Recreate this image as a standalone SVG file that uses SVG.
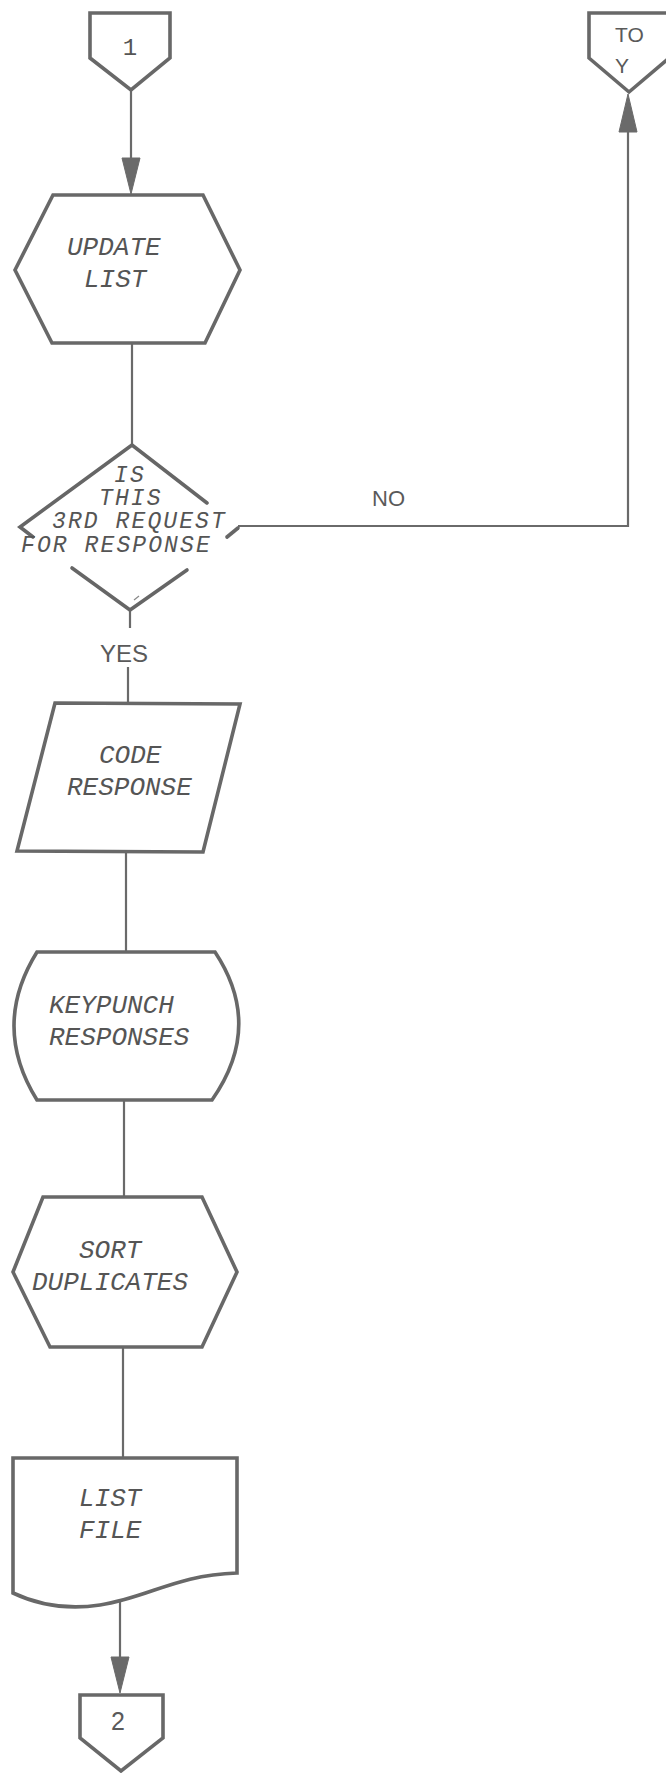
<svg xmlns="http://www.w3.org/2000/svg" width="666" height="1773" viewBox="0 0 666 1773">
  <defs>
    <style>
      .shape { fill: #ffffff; stroke: #686868; stroke-width: 3.6; stroke-linejoin: miter; }
      .edge { fill: none; stroke: #6a6a6a; stroke-width: 2.2; }
      .dia { fill: none; stroke: #666666; stroke-width: 3.6; stroke-linecap: round; }
      .head { fill: #6a6a6a; stroke: #6a6a6a; stroke-width: 1; }
      .mono { font-family: "Liberation Mono", "DejaVu Sans Mono", monospace; font-style: italic; font-size: 26px; fill: #555555; }
      .q { font-size: 23px; letter-spacing: 2.1px; }
      .sans { font-family: "Liberation Sans", Arial, sans-serif; fill: #5a5a5a; }
    </style>
  </defs>
  <rect x="0" y="0" width="666" height="1773" fill="#ffffff"/>

  <!-- connectors -->
  <g id="connectors">
    <line class="edge" x1="131" y1="90" x2="131" y2="160"/>
    <polygon class="head" points="122,158 140,158 131,194"/>
    <line class="edge" x1="132" y1="343" x2="132" y2="445"/>
    <polyline class="edge" points="238,526 628,526 628,130"/>
    <polygon class="head" points="619,132 637,132 628,94"/>
    <line class="edge" x1="130" y1="610" x2="130" y2="628"/>
    <line class="edge" x1="128" y1="667" x2="128" y2="703"/>
    <line class="edge" x1="126" y1="852" x2="126" y2="952"/>
    <line class="edge" x1="124" y1="1100" x2="124" y2="1197"/>
    <line class="edge" x1="123" y1="1347" x2="123" y2="1458"/>
    <line class="edge" x1="120" y1="1602" x2="120" y2="1660"/>
    <polygon class="head" points="111,1657 129,1657 120,1693"/>
    <text class="sans" x="372" y="506" font-size="22">NO</text>
    <text class="sans" x="100" y="662" font-size="24">YES</text>
  </g>

  <!-- off-page connector 1 -->
  <g id="conn-1">
    <polygon class="shape" points="90,13 170,13 170,58 131,90 90,58"/>
    <text x="130" y="55" text-anchor="middle" font-family="Liberation Mono, monospace" font-size="24" fill="#555555">1</text>
  </g>

  <!-- off-page connector TO Y -->
  <g id="conn-to-y">
    <polygon class="shape" points="589,13 669,13 669,58 629,92 589,58"/>
    <text class="sans" x="615" y="42" font-size="21">TO</text>
    <text class="sans" x="615" y="73" font-size="21">Y</text>
  </g>

  <!-- preparation: update list -->
  <g id="update-list">
    <polygon class="shape" points="15,270 53,195 203,195 240,270 205,343 52,343"/>
    <text class="mono" x="67" y="255">UPDATE</text>
    <text class="mono" x="84" y="287">LIST</text>
  </g>

  <!-- decision: third request -->
  <g id="decision">
    <polyline class="dia" points="207,503 132,445 20,527 33,537"/>
    <line class="dia" x1="238" y1="528" x2="227" y2="537"/>
    <polyline class="dia" points="72,568 130,610 187,570"/>
    <line x1="134" y1="600" x2="139" y2="596" stroke="#888888" stroke-width="1.2"/>
    <text class="mono q" x="114" y="482">IS</text>
    <text class="mono q" x="99" y="505">THIS</text>
    <text class="mono q" x="52" y="528">3RD REQUEST</text>
    <text class="mono q" x="21" y="552">FOR RESPONSE</text>
  </g>

  <!-- input/output: code response -->
  <g id="code-response">
    <polygon class="shape" points="55,703 240,704 203,852 17,851"/>
    <text class="mono" x="99" y="763">CODE</text>
    <text class="mono" x="67" y="795">RESPONSE</text>
  </g>

  <!-- manual operation: keypunch -->
  <g id="keypunch">
    <path class="shape" d="M37,952 L215,952 Q264,1026 212,1100 L37,1100 Q-9,1026 37,952 Z"/>
    <text class="mono" x="49" y="1013">KEYPUNCH</text>
    <text class="mono" x="49" y="1045">RESPONSES</text>
  </g>

  <!-- preparation: sort duplicates -->
  <g id="sort-duplicates">
    <polygon class="shape" points="13,1272 43,1197 202,1197 237,1272 202,1347 50,1347"/>
    <text class="mono" x="79" y="1258">SORT</text>
    <text class="mono" x="32" y="1290">DUPLICATES</text>
  </g>

  <!-- document: list file -->
  <g id="list-file">
    <path class="shape" d="M13,1458 L237,1458 L237,1573 C175,1575 150,1597 100,1605 C60,1611 32,1602 13,1593 Z"/>
    <text class="mono" x="79" y="1506">LIST</text>
    <text class="mono" x="79" y="1538">FILE</text>
  </g>

  <!-- off-page connector 2 -->
  <g id="conn-2">
    <polygon class="shape" points="80,1695 163,1695 163,1738 121,1771 80,1738"/>
    <text class="sans" x="118" y="1730" text-anchor="middle" font-size="25">2</text>
  </g>
</svg>
